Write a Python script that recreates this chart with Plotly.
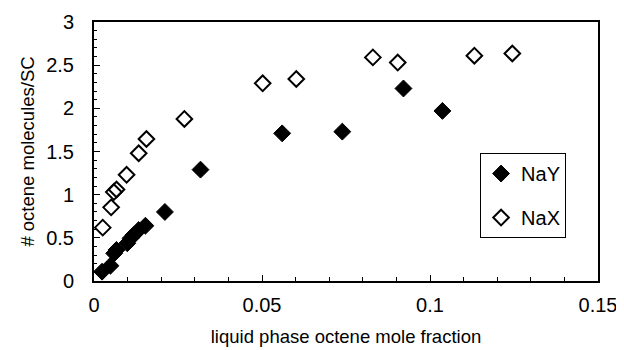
import plotly.graph_objects as go

nay_x = [0.0024, 0.0049, 0.0060, 0.0067, 0.0099, 0.0109, 0.0118, 0.0133, 0.0153, 0.0211, 0.0317, 0.0560, 0.0739, 0.0921, 0.1037]
nay_y = [0.108, 0.177, 0.32, 0.36, 0.437, 0.495, 0.533, 0.59, 0.64, 0.80, 1.29, 1.71, 1.73, 2.23, 1.97]

nax_x = [0.0026, 0.0051, 0.0059, 0.0067, 0.0097, 0.0133, 0.0156, 0.0269, 0.0502, 0.0602, 0.0830, 0.0904, 0.1132, 0.1245]
nax_y = [0.618, 0.853, 1.03, 1.06, 1.23, 1.48, 1.645, 1.877, 2.29, 2.34, 2.59, 2.53, 2.61, 2.635]

FONT = "Liberation Sans, Arial, sans-serif"

fig = go.Figure()
fig.add_trace(go.Scatter(x=nay_x, y=nay_y, mode="markers", name="NaY", legendgroup="g1",
                         marker=dict(symbol="diamond", size=13, color="black",
                                     line=dict(color="black", width=1))))
fig.add_trace(go.Scatter(x=nax_x, y=nax_y, mode="markers", name="NaX", legendgroup="g2",
                         marker=dict(symbol="diamond-open", size=12, color="black",
                                     line=dict(color="black", width=2))))

fig.update_layout(
    width=624, height=350,
    margin=dict(l=86, r=34, t=14, b=77, autoexpand=False),
    paper_bgcolor="white", plot_bgcolor="white",
    font=dict(family=FONT, size=18, color="black"),
    showlegend=True,
    legend=dict(x=0.766, y=0.494, xanchor="left", yanchor="top",
                bordercolor="black", borderwidth=1, bgcolor="white",
                font=dict(size=20), itemsizing="trace", tracegroupgap=15,
                itemwidth=30),
    xaxis=dict(range=[0, 0.15], dtick=0.05, ticks="inside",
               ticklen=6, tickwidth=1, tickcolor="black",
               minor=dict(dtick=0.01, ticks="inside", ticklen=4, tickcolor="black"),
               showline=True, linecolor="black", linewidth=2, mirror=True,
               showgrid=False, zeroline=False, automargin=False,
               ticklabelstandoff=5,
               title=dict(text="liquid phase octene mole fraction", standoff=15,
                          font=dict(size=18.5)),
               tickfont=dict(size=20)),
    yaxis=dict(range=[0, 3], dtick=0.5, ticks="inside",
               ticklen=6, tickwidth=1, tickcolor="black",
               minor=dict(dtick=0.1, ticks="inside", ticklen=3, tickcolor="black"),
               showline=True, linecolor="black", linewidth=2, mirror=True,
               showgrid=False, zeroline=False, automargin=False,
               ticklabelstandoff=14,
               title=dict(text="# octene molecules/SC", standoff=7,
                          font=dict(size=18.5)),
               tickfont=dict(size=20)),
)

fig.write_html("out.html")
